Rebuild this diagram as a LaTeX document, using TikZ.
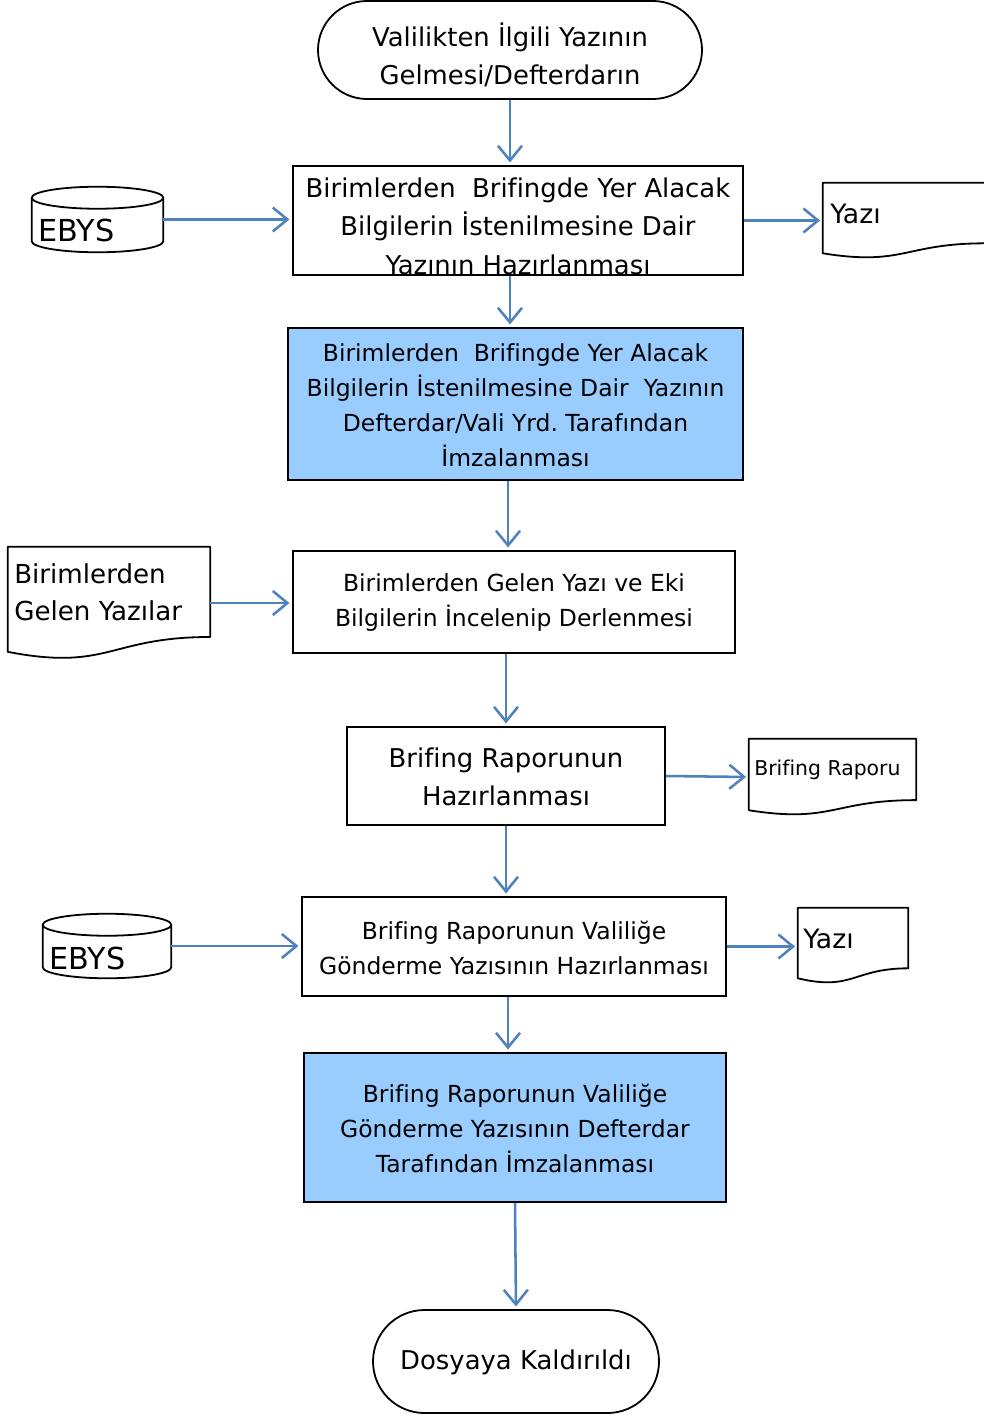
\documentclass[tikz,border=0pt]{standalone}
\usepackage{fontspec}
\setmainfont[Ligatures=NoCommon]{DejaVu Sans}
\usetikzlibrary{arrows.meta,shapes.misc,calc}
\definecolor{arrowblue}{RGB}{79,129,189}
\definecolor{boxblue}{RGB}{153,204,255}
\newcommand\bigtxt{\fontsize{19.4pt}{28.9pt}\selectfont}
\newcommand\smalltxt{\fontsize{17.6pt}{26.25pt}\selectfont}
\newcommand\docshape[1]{\draw[outline] let \p1=(#1.north west), \p2=(#1.south east), \n1={\y1-\y2} in
  (\x1,\y1) -- (\x2,\y1) -- (\x2,{\y1-0.802*\n1})
  .. controls ({0.5*\x1+0.5*\x2},{\y1-0.802*\n1}) and ({0.5*\x1+0.5*\x2},{\y1-1.1075*\n1}) ..
  (\x1,{\y1-0.934*\n1}) -- cycle;}
\newcommand\cylshape[1]{\draw[outline] let \p1=(#1.north west), \p2=(#1.south east), \p3=(#1.north) in
  (\x1,{\y1-8.25pt}) -- (\x1,{\y2+8.25pt})
  arc[start angle=180,end angle=360,x radius={(\x2-\x1)/2},y radius=8.25pt]
  -- (\x2,{\y1-8.25pt})
  (\x3,{\y1-8.25pt}) ellipse[x radius={(\x2-\x1)/2},y radius=8.25pt];}
\begin{document}
\begin{tikzpicture}[x=0.75pt,y=-0.75pt,
  proc/.style={draw=black, line width=1.35pt, rectangle, inner sep=0pt},
  blueproc/.style={proc, fill=boxblue},
  term/.style={draw=black, line width=1.35pt, rounded rectangle, inner sep=0pt},
  ghost/.style={rectangle, inner sep=0pt},
  txt/.style={inner sep=0pt, align=center},
  ltxt/.style={inner sep=0pt, align=left, anchor=west},
  arr/.style={draw=arrowblue, line width=1.9pt, -{Straight Barb[length=11pt,width=18pt,line width=1.9pt]}, shorten >=2pt},
  outline/.style={draw=black, line width=1.35pt, line join=round}]
\useasboundingbox (0,0) rectangle (983,1417);

% shapes
\node[term, minimum width=288pt, minimum height=73.5pt] (T) at (510,50) {};
\node[proc, minimum width=337.5pt, minimum height=81.75pt] (b1) at (518,220.5) {};
\node[ghost, minimum width=98.25pt, minimum height=48.75pt] (c1) at (97.5,219.5) {};
\node[ghost, minimum width=121.5pt, minimum height=56.25pt] (d1) at (904,220.5) {};
\node[blueproc, minimum width=341.25pt, minimum height=114pt] (b2) at (515.5,404) {};
\node[proc, minimum width=331.5pt, minimum height=76.5pt] (b3) at (514,602) {};
\node[ghost, minimum width=151.5pt, minimum height=84pt] (d2) at (109,603) {};
\node[proc, minimum width=238.5pt, minimum height=73.5pt] (b4) at (506,776) {};
\node[ghost, minimum width=125.25pt, minimum height=57pt] (d3) at (832.5,777) {};
\node[proc, minimum width=318pt, minimum height=74.25pt] (b5) at (514,946.5) {};
\node[ghost, minimum width=96pt, minimum height=48pt] (c2) at (107,946) {};
\node[ghost, minimum width=82.5pt, minimum height=56.25pt] (d4) at (853,945.5) {};
\node[blueproc, minimum width=316.5pt, minimum height=111.75pt] (b6) at (515,1127.5) {};
\node[term, minimum width=214.5pt, minimum height=77.25pt] (E) at (516,1361.5) {};

\cylshape{c1}
\cylshape{c2}
\docshape{d1}
\docshape{d2}
\docshape{d3}
\docshape{d4}

% texts
\node[txt, font=\bigtxt] (Tt) at (510,55) {Valilikten İlgili Yazının\\Gelmesi/Defterdarın};
\node[txt, font=\bigtxt] (b1t) at (518,226) {Birimlerden\ \ Brifingde Yer Alacak\\Bilgilerin İstenilmesine Dair\\Yazının Hazırlanması};
\node[ltxt, font=\fontsize{22.7pt}{27pt}\selectfont] (c1t) at (38,230) {EBYS};
\node[ltxt, font=\fontsize{20pt}{27pt}\selectfont] (d1t) at (830,214) {Yazı};
\node[txt, font=\smalltxt] (b2t) at (515.5,405.5) {Birimlerden\ \ Brifingde Yer Alacak\\Bilgilerin İstenilmesine Dair\ \ Yazının\\Defterdar/Vali Yrd.\ Tarafından\\İmzalanması};
\node[txt, font=\smalltxt] (b3t) at (514,602.5) {Birimlerden Gelen Yazı ve Eki\\Bilgilerin İncelenip Derlenmesi};
\node[ltxt, font=\fontsize{19.6pt}{27.75pt}\selectfont] (d2t) at (14,592.5) {Birimlerden\\Gelen Yazılar};
\node[txt, font=\bigtxt] (b4t) at (506,777) {Brifing Raporunun\\Hazırlanması};
\node[ltxt, font=\fontsize{15.3pt}{18pt}\selectfont] (d3t) at (754,770) {Brifing Raporu};
\node[txt, font=\smalltxt] (b5t) at (514,947.5) {Brifing Raporunun Valiliğe\\Gönderme Yazısının Hazırlanması};
\node[ltxt, font=\fontsize{22.7pt}{27pt}\selectfont] (c2t) at (49,958) {EBYS};
\node[ltxt, font=\fontsize{20pt}{27pt}\selectfont] (d4t) at (803,939) {Yazı};
\node[txt, font=\smalltxt] (b6t) at (515,1128) {Brifing Raporunun Valiliğe\\Gönderme Yazısının Defterdar\\Tarafından İmzalanması};
\node[txt, font=\bigtxt] (Et) at (516,1362) {Dosyaya Kaldırıldı};

% connectors
\draw[arr] (T.south) -- (T.south |- b1.north);
\draw[arr] (c1.east) -- (c1.east -| b1.west);
\draw[arr] (b1.east) -- (b1.east -| d1.west);
\draw[arr] ([xshift=-6pt]b1.south) -- ([xshift=-6pt]b1.south |- b2.north);
\draw[arr] ([xshift=-5.6pt]b2.south) -- ([xshift=-5.6pt]b2.south |- b3.north);
\draw[arr] (d2.east) -- (d2.east -| b3.west);
\draw[arr] (b3.south -| b4.north) -- (b4.north);
\draw[arr] (b4.east) -- (d3.west);
\draw[arr] (b4.south) -- (b4.south |- b5.north);
\draw[arr] (c2.east) -- (c2.east -| b5.west);
\draw[arr] (b5.east) -- (b5.east -| d4.west);
\draw[arr] ([xshift=-4.5pt]b5.south) -- ([xshift=-4.5pt]b5.south |- b6.north);
\draw[arr] (b6.south) -- (E.north);
\end{tikzpicture}
\end{document}
